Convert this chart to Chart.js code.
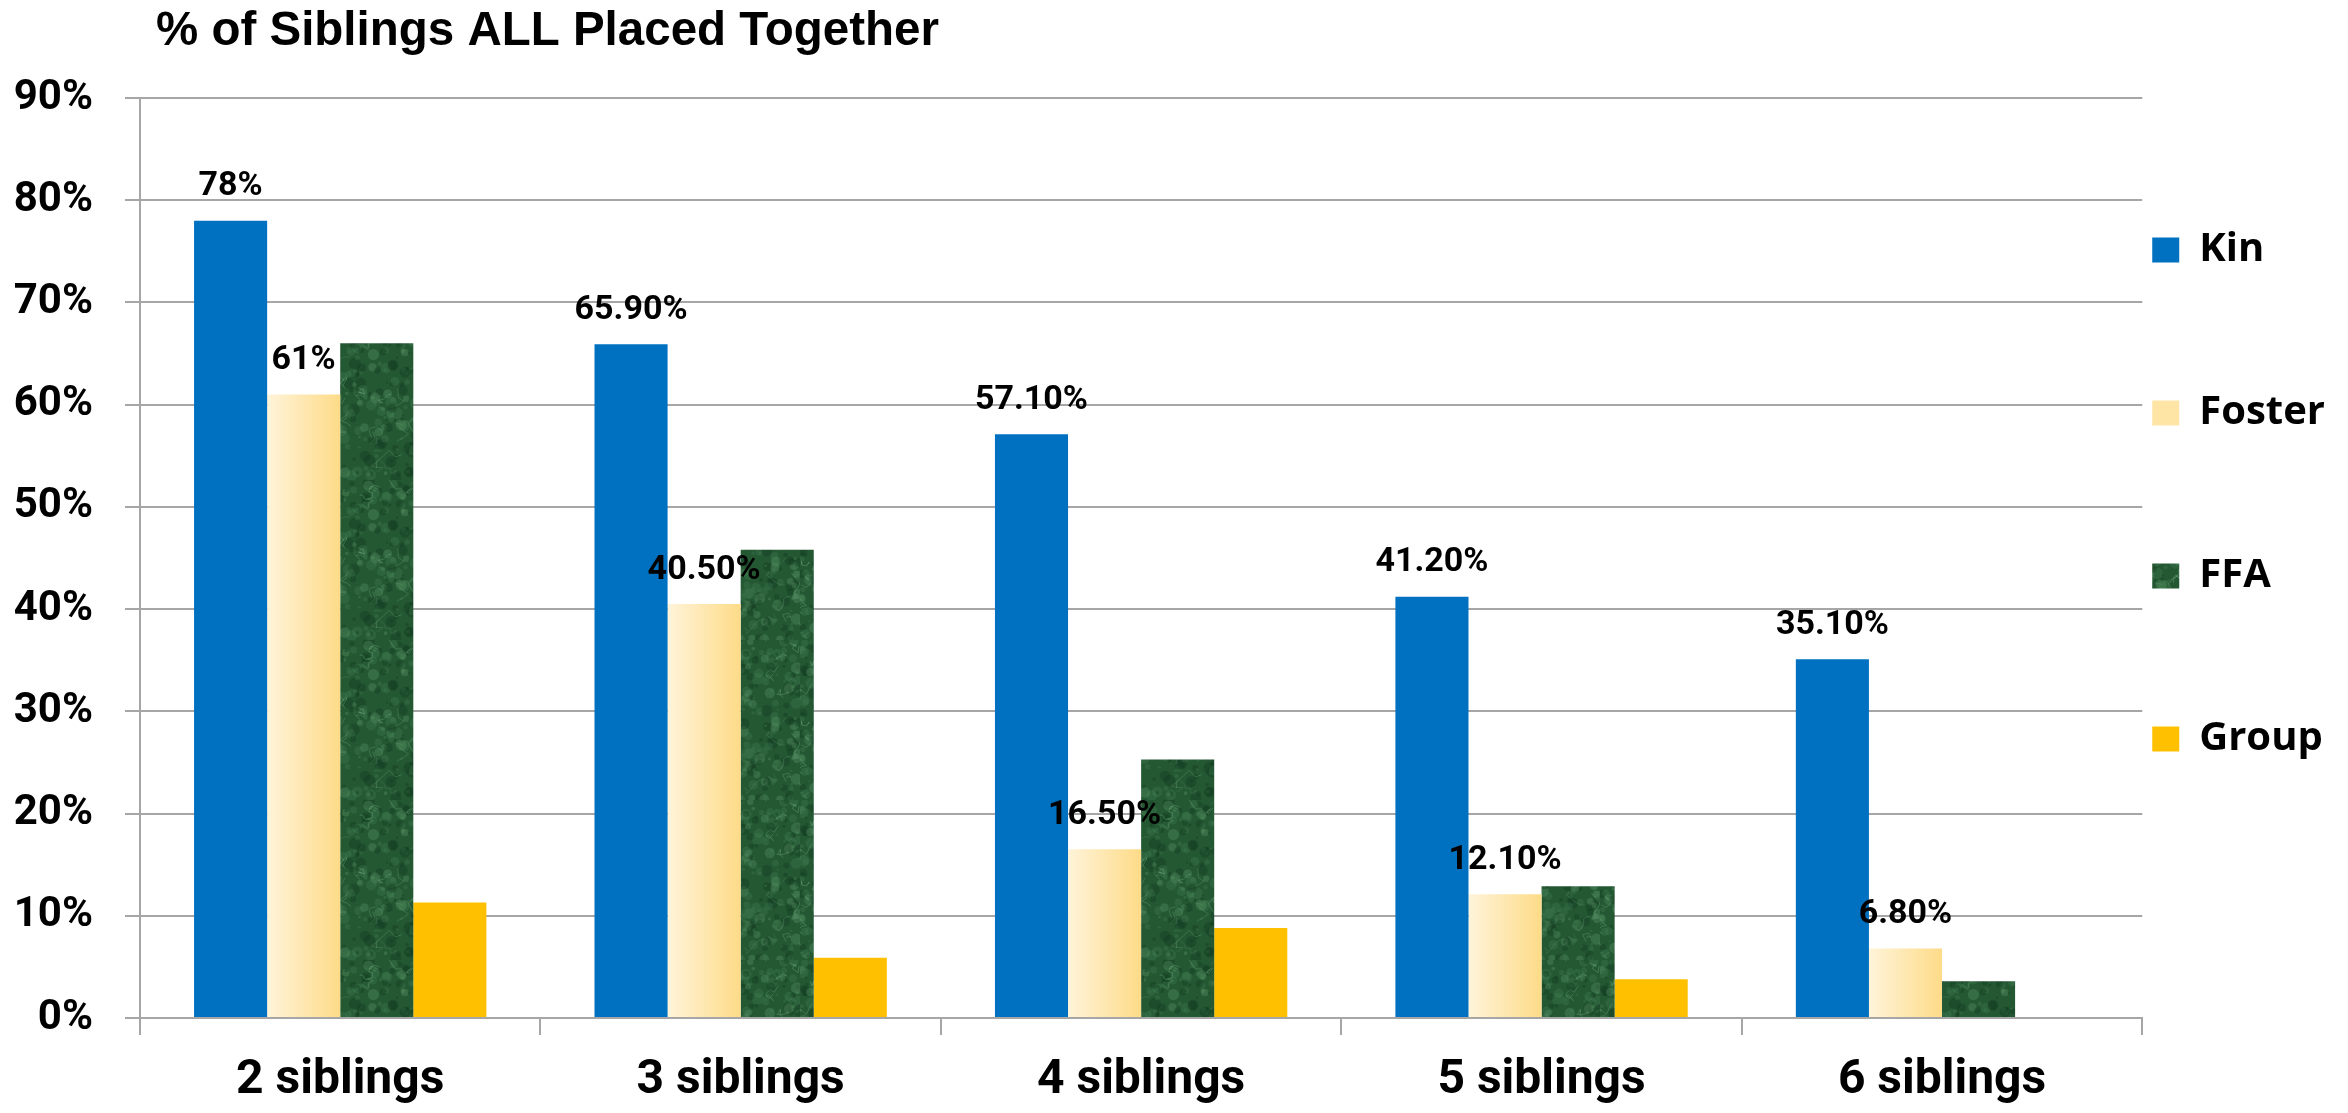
<!DOCTYPE html>
<html>
<head>
<meta charset="utf-8">
<script src="https://cdn.jsdelivr.net/npm/chart.js@4.4.1/dist/chart.umd.min.js"></script>
<style>
  html, body { margin: 0; padding: 0; background: #fff; }
  #wrap { width: 2348px; height: 1113px; position: relative; }
</style>
</head>
<body>
<div id="wrap"><canvas id="chart"></canvas></div>
<script>
// Datos
const categories = ['2 siblings', '3 siblings', '4 siblings', '5 siblings', '6 siblings'];
const seriesNames = ['Kin', 'Foster', 'FFA', 'Group'];
const kinValues = [78, 65.9, 57.1, 41.2, 35.1];
const fosterValues = [61, 40.5, 16.5, 12.1, 6.8];
const ffaValues = [66, 45.8, 25.3, 12.9, 3.6];
const groupValues = [11.3, 5.9, 8.8, 3.8, 0];
const kinLabels = ['78%', '65.90%', '57.10%', '41.20%', '35.10%'];
const fosterLabels = ['61%', '40.50%', '16.50%', '12.10%', '6.80%'];
const yTicks = [0, 10, 20, 30, 40, 50, 60, 70, 80, 90];

const CAT_PCT = 0.73;
const GRID = '#A6A6A6';

// Textura tipo marmol verde para FFA (semilla fija)
function makeMarble() {
    const c = document.createElement('canvas');
    c.width = 160; c.height = 160;
    const g = c.getContext('2d');
    g.fillStyle = '#245833';
    g.fillRect(0, 0, 160, 160);
    let s = 4242;
    const rnd = () => { s = (s * 1103515245 + 12345) % 2147483648; return s / 2147483648; };
    for (let i = 0; i < 420; i++) {
        const r = rnd();
        g.fillStyle = r > 0.55 ? 'rgba(70,130,85,0.30)' : (r > 0.2 ? 'rgba(15,55,28,0.35)' : 'rgba(110,170,125,0.25)');
        g.beginPath();
        g.arc(rnd() * 160, rnd() * 160, 1 + rnd() * 5, 0, Math.PI * 2);
        g.fill();
    }
    g.lineWidth = 1;
    for (let i = 0; i < 45; i++) {
        g.strokeStyle = 'rgba(130,190,145,' + (0.15 + rnd() * 0.2) + ')';
        g.beginPath();
        let x = rnd() * 160, y = rnd() * 160;
        g.moveTo(x, y);
        for (let k = 0; k < 5; k++) {
            x += (rnd() - 0.5) * 14; y += (rnd() - 0.5) * 14;
            g.lineTo(x, y);
        }
        g.stroke();
    }
    return c;
}

const ctx = document.getElementById('chart').getContext('2d');
const marble = ctx.createPattern(makeMarble(), 'repeat');

function fosterFill(context) {
    const chart = context.chart;
    const xs = chart.scales.x;
    if (!xs || context.dataIndex === undefined) return '#FEE7AE';
    const c = xs.getPixelForValue(context.dataIndex);
    const w = xs.width / categories.length * CAT_PCT / 4;
    if (!isFinite(c) || !isFinite(w) || w <= 0) return '#FEE7AE';
    const g = chart.ctx.createLinearGradient(c - w, 0, c, 0);
    g.addColorStop(0, '#FFF4DA');
    g.addColorStop(1, '#FDDB88');
    return g;
}

const barLabels = {
    id: 'barLabels',
    afterLayout(chart) {
        // el titulo empieza un poco a la derecha del eje
        if (chart.titleBlock) {
            chart.titleBlock.left += 16;
            chart.titleBlock.right += 16;
        }
    },
    afterDatasetsDraw(chart) {
        const c = chart.ctx;
        c.save();
        c.font = 'bold 34px Roboto';
        c.fillStyle = '#000';
        c.textAlign = 'center';
        c.textBaseline = 'middle';
        [kinLabels, fosterLabels].forEach((labels, di) => {
            chart.getDatasetMeta(di).data.forEach((bar, i) => {
                c.fillText(labels[i], bar.x, bar.y - 34);
            });
        });
        c.restore();
    }
};

new Chart(ctx, {
    type: 'bar',
    data: {
        labels: categories,
        datasets: [
            { label: seriesNames[0], data: kinValues, backgroundColor: '#0070C0' },
            { label: seriesNames[1], data: fosterValues, backgroundColor: fosterFill },
            { label: seriesNames[2], data: ffaValues, backgroundColor: marble },
            { label: seriesNames[3], data: groupValues, backgroundColor: '#FFC000' }
        ]
    },
    options: {
        responsive: true,
        maintainAspectRatio: false,
        animation: false,
        datasets: { bar: { categoryPercentage: CAT_PCT, barPercentage: 1 } },
        layout: { padding: { left: 11, right: 13, top: 0, bottom: 0 } },
        plugins: {
            title: {
                display: true,
                text: '% of Siblings ALL Placed Together',
                align: 'start',
                fullSize: false,
                color: '#000',
                font: { family: '"Liberation Sans", Arial', size: 47.5, weight: 'bold', lineHeight: 1.2 },
                padding: { top: 3, bottom: 38 }
            },
            legend: {
                position: 'right',
                align: 'start',
                title: { display: true, text: '', padding: 0, font: { size: 10, lineHeight: '220px' } },
                labels: {
                    boxWidth: 27,
                    boxHeight: 25,
                    padding: 10,
                    color: '#000',
                    font: { family: '"Open Sans"', size: 40, weight: 'bold', lineHeight: 153 / 40 },
                    generateLabels(chart) {
                        const items = Chart.defaults.plugins.legend.labels.generateLabels(chart);
                        return items.map((it, i) => {
                            it.text = [it.text];
                            if (i === 1) it.fillStyle = '#FEE5A6';
                            it.lineWidth = 0;
                            it.strokeStyle = 'rgba(0,0,0,0)';
                            return it;
                        });
                    }
                }
            },
            tooltip: { enabled: false }
        },
        scales: {
            x: {
                grid: { drawOnChartArea: false, color: GRID, lineWidth: 2, tickLength: 17 },
                border: { color: GRID, width: 2 },
                afterFit(scale) {
                    scale.paddingLeft = 0;
                    scale.paddingRight = 0;
                    scale.height = 95;
                },
                ticks: {
                    color: '#000',
                    padding: 17,
                    font: { family: 'Roboto', size: 48, weight: 'bold' }
                }
            },
            y: {
                min: 0,
                max: 90,
                afterBuildTicks(scale) { scale.ticks = yTicks.map(v => ({ value: v })); },
                afterFit(scale) { scale.width = 129; },
                grid: { color: GRID, lineWidth: 2, tickLength: 15 },
                border: { color: GRID, width: 2 },
                ticks: {
                    color: '#000',
                    padding: 32,
                    font: { family: 'Roboto', size: 42, weight: 'bold' },
                    callback: v => v + '%'
                }
            }
        }
    },
    plugins: [barLabels]
});
</script>
</body>
</html>
